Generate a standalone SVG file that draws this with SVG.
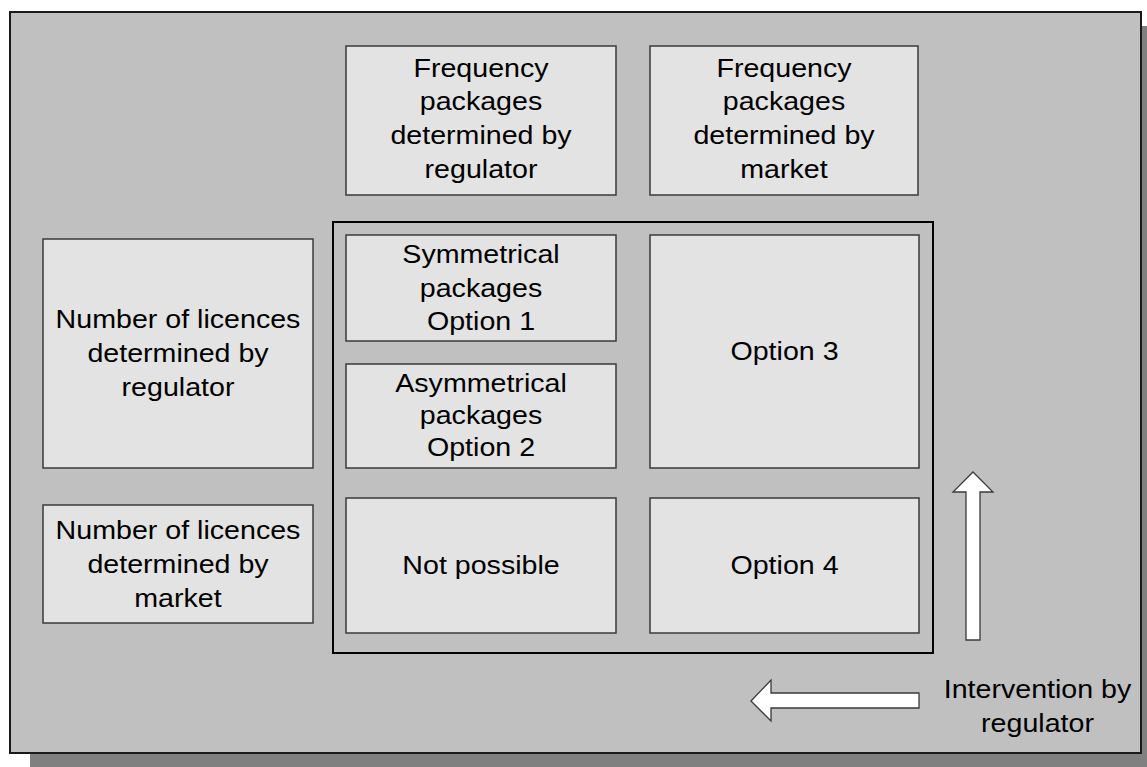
<svg xmlns="http://www.w3.org/2000/svg" width="1147" height="767" viewBox="0 0 1147 767">
<style>
.box{fill:#e3e3e3;stroke:#3a3a3a;stroke-width:1.5}
.t{font-family:"Liberation Sans",Arial,sans-serif;font-size:26px;fill:#000;text-anchor:middle}
.arr{fill:#ffffff;stroke:#3a3a3a;stroke-width:1.3}
</style>
<rect x="30" y="26" width="1140" height="760" fill="#808080"/>
<rect id="frame" x="10" y="12" width="1131" height="741" fill="#c0c0c0" stroke="#1a1a1a" stroke-width="2"/>
<rect id="matrix" x="333" y="222" width="600" height="431" fill="none" stroke="#000" stroke-width="2"/>
<g id="freq-regulator">
<rect class="box" x="346" y="46" width="270" height="149"/>
<text class="t" transform="translate(481 0) scale(1.1 1)"><tspan x="0" y="77">Frequency</tspan><tspan x="0" y="110.5">packages</tspan><tspan x="0" y="144">determined by</tspan><tspan x="0" y="178">regulator</tspan></text>
</g>
<g id="freq-market">
<rect class="box" x="650" y="46" width="268" height="149"/>
<text class="t" transform="translate(784 0) scale(1.1 1)"><tspan x="0" y="77">Frequency</tspan><tspan x="0" y="110.5">packages</tspan><tspan x="0" y="144">determined by</tspan><tspan x="0" y="178">market</tspan></text>
</g>
<g id="lic-regulator">
<rect class="box" x="43" y="239" width="270" height="229"/>
<text class="t" transform="translate(178 0) scale(1.1 1)"><tspan x="0" y="328.5">Number of licences</tspan><tspan x="0" y="362.5">determined by</tspan><tspan x="0" y="396.5">regulator</tspan></text>
</g>
<g id="lic-market">
<rect class="box" x="43" y="505" width="270" height="118"/>
<text class="t" transform="translate(178 0) scale(1.1 1)"><tspan x="0" y="539">Number of licences</tspan><tspan x="0" y="573">determined by</tspan><tspan x="0" y="607">market</tspan></text>
</g>
<g id="option1">
<rect class="box" x="346" y="235" width="270" height="106"/>
<text class="t" transform="translate(481 0) scale(1.1 1)"><tspan x="0" y="263.5">Symmetrical</tspan><tspan x="0" y="297">packages</tspan><tspan x="0" y="330">Option 1</tspan></text>
</g>
<g id="option2">
<rect class="box" x="346" y="364" width="270" height="104"/>
<text class="t" transform="translate(481 0) scale(1.1 1)"><tspan x="0" y="392.5">Asymmetrical</tspan><tspan x="0" y="424.5">packages</tspan><tspan x="0" y="456">Option 2</tspan></text>
</g>
<g id="option3">
<rect class="box" x="650" y="235" width="269" height="233"/>
<text class="t" transform="translate(784.5 0) scale(1.1 1)" x="0" y="360">Option 3</text>
</g>
<g id="not-possible">
<rect class="box" x="346" y="498" width="270" height="135"/>
<text class="t" transform="translate(481 0) scale(1.1 1)" x="0" y="574">Not possible</text>
</g>
<g id="option4">
<rect class="box" x="650" y="498" width="269" height="135"/>
<text class="t" transform="translate(784.5 0) scale(1.1 1)" x="0" y="574">Option 4</text>
</g>
<g id="connectors">
<polygon class="arr" points="973,472 993,492 980,492 980,640 966,640 966,492 953,492"/>
<polygon class="arr" points="751,701 771,680 771,693 919,693 919,708 771,708 771,721"/>
</g>
<g id="intervention-label">
<text class="t" transform="translate(1037.5 0) scale(1.1 1)"><tspan x="0" y="698.5">Intervention by</tspan><tspan x="0" y="732">regulator</tspan></text>
</g>
</svg>
